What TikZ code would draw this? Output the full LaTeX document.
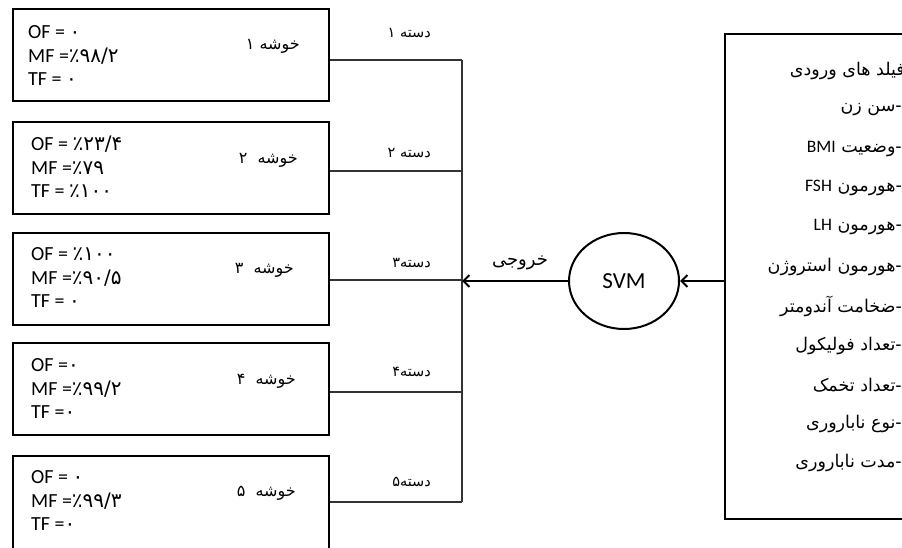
\documentclass[tikz,border=0pt]{standalone}
\usepackage{fontspec}
\setmainfont{Carlito}
\newfontfamily\fa[Script=Arabic]{DejaVu Sans}
\TeXXeTstate=1
\usetikzlibrary{arrows.meta,shapes.geometric}
% Persian digits inside Latin text
\newcommand\pd[1]{{\fa #1}}
% leading dash of an input item
\newcommand\itemdash{\hbox{-}}
\begin{document}
\begin{tikzpicture}[x=1pt,y=-1pt,
  cluster/.style={draw,line width=2pt,minimum width=316pt,minimum height=92pt,
    anchor=north west,inner sep=0pt},
  vals/.style={anchor=west,align=left,inner sep=0pt,
    font=\fontsize{20}{23.5}\selectfont},
  clabel/.style={anchor=east,inner sep=0pt,font=\fa\fontsize{16}{18}\selectfont},
  glabel/.style={anchor=east,inner sep=0pt,font=\fa\fontsize{14.5}{16}\selectfont},
  field/.style={anchor=east,inner sep=0pt,font=\fa\fontsize{17.5}{19}\selectfont},
  wire/.style={line width=1.1pt,draw=black!80},
  flow/.style={line width=2pt,-{Straight Barb[length=6pt,width=12pt]}},
]
\useasboundingbox (0,0) rectangle (902,548);

% cluster boxes
\node[cluster] (b1) at (12,8) {};
\node[cluster] (b2) at (12,121) {};
\node[cluster] (b3) at (12,232) {};
\node[cluster] (b4) at (12,342) {};
\node[cluster,minimum height=100pt] (b5) at (12,455) {};

% values inside the boxes
\node[vals] (v1) at (28,56) {OF = \pd{۰}\\MF =\pd{٪۹۸/۲}\\TF = \pd{۰}};
\node[vals] (v2) at (31,167) {OF = \pd{٪۲۳/۴}\\MF =\pd{٪۷۹}\\TF = \pd{٪۱۰۰}};
\node[vals] (v3) at (31,278) {OF = \pd{٪۱۰۰}\\MF =\pd{٪۹۰/۵}\\TF = \pd{۰}};
\node[vals] (v4) at (31,389) {OF =\pd{۰}\\MF =\pd{٪۹۹/۲}\\TF =\pd{۰}};
\node[vals] (v5) at (31,501) {OF = \pd{۰}\\MF =\pd{٪۹۹/۳}\\TF =\pd{۰}};

% cluster names
\node[clabel] (k1) at (300,46) {\beginR خوشه ۱\endR};
\node[clabel] (k2) at (298,160) {\beginR خوشه\ \ ۲\endR};
\node[clabel] (k3) at (294,270) {\beginR خوشه\ \ ۳\endR};
\node[clabel] (k4) at (296,381) {\beginR خوشه\ \ ۴\endR};
\node[clabel] (k5) at (296,493) {\beginR خوشه\ \ ۵\endR};

% junctions on the collecting line
\coordinate (j1) at (462,60);
\coordinate (j2) at (462,171);
\coordinate (j3) at (462,280);
\coordinate (j4) at (462,392);
\coordinate (j5) at (462,502);

\draw[wire] (b1.east |- j1) -- (j1);
\draw[wire] (b2.east |- j2) -- (j2);
\draw[wire] (b3.east |- j3) -- (j3);
\draw[wire] (b4.east |- j4) -- (j4);
\draw[wire] (b5.east |- j5) -- (j5);
\draw[wire] (j1) -- (j5);

% group names
\node[glabel] (g1) at (431,33) {\beginR دسته ۱\endR};
\node[glabel] (g2) at (431,153) {\beginR دسته ۲\endR};
\node[glabel] (g3) at (431,263) {\beginR دسته۳\endR};
\node[glabel] (g4) at (431,372) {\beginR دسته۴\endR};
\node[glabel] (g5) at (431,482) {\beginR دسته۵\endR};

% classifier
\node[ellipse,draw,line width=2pt,minimum width=110pt,minimum height=96pt,
  font=\fontsize{23}{25}\selectfont] (svm) at (624,281) {SVM};
\node[glabel,anchor=center,font=\fa\fontsize{18}{20}\selectfont] (out) at (520,263) {خروجی};

% input fields
\node[draw,line width=2pt,anchor=north west,minimum width=200pt,minimum height=485pt,
  inner sep=0pt] (inp) at (724,33) {};
\node[field] (f0) at (905,71) {\beginR فیلد های ورودی\endR};
\node[field] (f1) at (902,110) {\beginR\itemdash سن زن\endR};
\node[field] (f2) at (902,149) {\beginR\itemdash وضعیت {\rmfamily BMI}\endR};
\node[field] (f3) at (902,188) {\beginR\itemdash هورمون {\rmfamily FSH}\endR};
\node[field] (f4) at (902,227) {\beginR\itemdash هورمون {\rmfamily LH}\endR};
\node[field] (f5) at (902,267) {\beginR\itemdash هورمون استروژن\endR};
\node[field] (f6) at (902,306) {\beginR\itemdash ضخامت آندومتر\endR};
\node[field] (f7) at (902,346) {\beginR\itemdash تعداد فولیکول\endR};
\node[field] (f8) at (902,385) {\beginR\itemdash تعداد تخمک\endR};
\node[field] (f9) at (902,424) {\beginR\itemdash نوع ناباروری\endR};
\node[field] (f10) at (902,463) {\beginR\itemdash مدت ناباروری\endR};

% data flow
\draw[flow] (svm -| inp.west) -- (svm.east);
\draw[flow] (svm.west) -- (svm -| j3);
\end{tikzpicture}
\end{document}
